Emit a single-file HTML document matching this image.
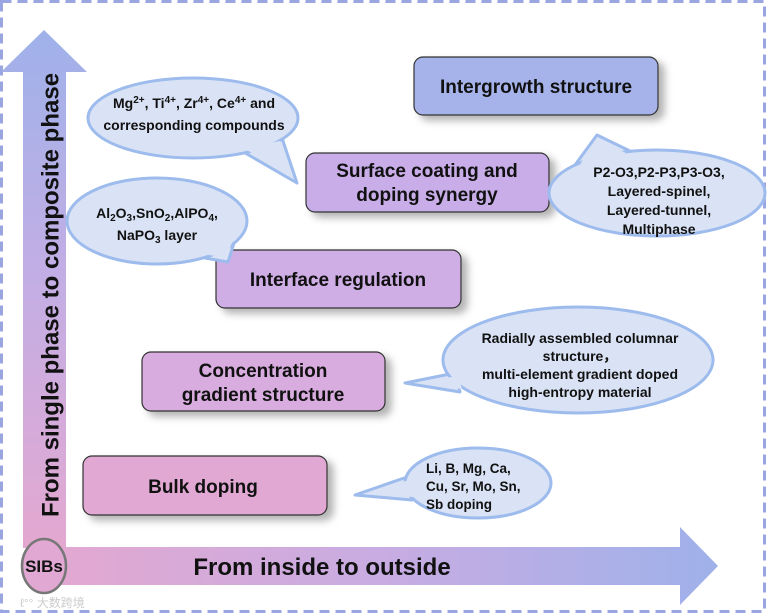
<!DOCTYPE html>
<html><head><meta charset="utf-8"><style>
html,body{margin:0;padding:0;background:#fff;}
svg{display:block;}
text{font-family:"Liberation Sans",Arial,sans-serif;font-weight:bold;fill:#111;}
</style></head><body>
<svg width="777" height="615" viewBox="0 0 777 615" xmlns="http://www.w3.org/2000/svg">
<defs>
<linearGradient id="vg" x1="0" y1="0" x2="0" y2="1">
<stop offset="0" stop-color="#9fb1ea"/><stop offset="0.5" stop-color="#c4aee4"/><stop offset="1" stop-color="#e3a8d0"/></linearGradient>
<linearGradient id="hg" x1="0" y1="0" x2="1" y2="0">
<stop offset="0" stop-color="#e3a8d0"/><stop offset="0.5" stop-color="#c8ace2"/><stop offset="1" stop-color="#9fb1ea"/></linearGradient>
<filter id="sh" x="-10%" y="-10%" width="130%" height="140%"><feDropShadow dx="6" dy="5" stdDeviation="4" flood-color="#000" flood-opacity="0.3"/></filter>
</defs>
<rect x="1.5" y="1.5" width="763" height="610" fill="none" stroke="#9aa6e2" stroke-width="3" stroke-dasharray="10 6"/>

<polygon points="44,30 87,72 66,72 66,548 23,548 23,72 1,72" fill="url(#vg)"/>
<polygon points="44,547 680,547 680,527 718,566 680,605 680,585 44,585" fill="url(#hg)"/>
<text transform="translate(52,295) rotate(-90)" text-anchor="middle" font-size="24" dominant-baseline="middle">From single phase to composite phase</text>
<text x="322" y="575" text-anchor="middle" font-size="24">From inside to outside</text>
<ellipse cx="44" cy="566" rx="22" ry="27" fill="#e0a8d2" stroke="#777" stroke-width="2.5"/>
<text x="44" y="572" text-anchor="middle" font-size="17">SIBs</text>

<g stroke="#333" stroke-width="1.2" filter="url(#sh)">
<rect x="414" y="57" width="244" height="58" rx="9" fill="#a5b3ea"/>
<rect x="306" y="153" width="243" height="59" rx="9" fill="#c8ade8"/>
<rect x="216" y="250" width="245" height="58" rx="9" fill="#cfaee6"/>
<rect x="142" y="352" width="243" height="59" rx="9" fill="#d8acdf"/>
<rect x="83" y="456" width="244" height="59" rx="9" fill="#e0a8d2"/>
</g>
<g font-size="19" text-anchor="middle">
<text x="536" y="93">Intergrowth structure</text>
<text x="427" y="177">Surface coating and</text>
<text x="427" y="201">doping synergy</text>
<text x="338" y="286">Interface regulation</text>
<text x="263" y="377">Concentration</text>
<text x="263" y="401">gradient structure</text>
<text x="203" y="493">Bulk doping</text>
</g>

<g fill="#dae3f5" stroke="#9dbbec" stroke-width="3" stroke-linejoin="round">
<polygon points="240,150 297,183 282,138"/>
<ellipse cx="193" cy="118" rx="105" ry="40"/>
<polygon points="205,258 228,262 235,240"/>
<ellipse cx="157" cy="221" rx="90" ry="43"/>
<polygon points="575,165 597,135 632,152"/>
<ellipse cx="657" cy="193" rx="108" ry="43"/>
<polygon points="460,392 405,383 455,373"/>
<ellipse cx="578" cy="360" rx="135" ry="53"/>
<polygon points="412,500 355,495 410,476"/>
<ellipse cx="478" cy="483" rx="73" ry="35"/>
</g>
<g fill="#dae3f5">
<polygon points="243,148 290,174 280,141"/>
<polygon points="208,255 225,257 232,243"/>
<polygon points="580,164 598,140 626,153"/>
<polygon points="462,389 414,383 458,376"/>
<polygon points="414,497 365,494 412,479"/>
</g>
<g font-size="14" text-anchor="middle">
<text x="194" y="108">Mg<tspan font-size="10" dy="-5">2+</tspan><tspan dy="5">, Ti</tspan><tspan font-size="10" dy="-5">4+</tspan><tspan dy="5">, Zr</tspan><tspan font-size="10" dy="-5">4+</tspan><tspan dy="5">, Ce</tspan><tspan font-size="10" dy="-5">4+</tspan><tspan dy="5"> and</tspan></text>
<text x="194" y="130">corresponding compounds</text>
<text x="157" y="218">Al<tspan font-size="10" dy="3">2</tspan><tspan dy="-3">O</tspan><tspan font-size="10" dy="3">3</tspan><tspan dy="-3">,SnO</tspan><tspan font-size="10" dy="3">2</tspan><tspan dy="-3">,AlPO</tspan><tspan font-size="10" dy="3">4</tspan><tspan dy="-3">,</tspan></text>
<text x="157" y="240">NaPO<tspan font-size="10" dy="3">3</tspan><tspan dy="-3"> layer</tspan></text>
<text x="659" y="177">P2-O3,P2-P3,P3-O3,</text>
<text x="659" y="196">Layered-spinel,</text>
<text x="659" y="215">Layered-tunnel,</text>
<text x="659" y="234">Multiphase</text>
<text x="580" y="343">Radially assembled columnar</text>
<text x="580" y="361">structure，</text>
<text x="580" y="379">multi-element gradient doped</text>
<text x="580" y="397">high-entropy material</text>
</g>
<g font-size="13.5">
<text x="426" y="473">Li, B, Mg, Ca,</text>
<text x="426" y="491">Cu, Sr, Mo, Sn,</text>
<text x="426" y="509">Sb doping</text>
</g>
<text x="20" y="607" font-size="12" style="fill:#ccc;font-weight:normal;font-family:'Liberation Sans','Noto Sans CJK SC',sans-serif">ℓ°° 大数跨境</text>
</svg>
</body></html>
